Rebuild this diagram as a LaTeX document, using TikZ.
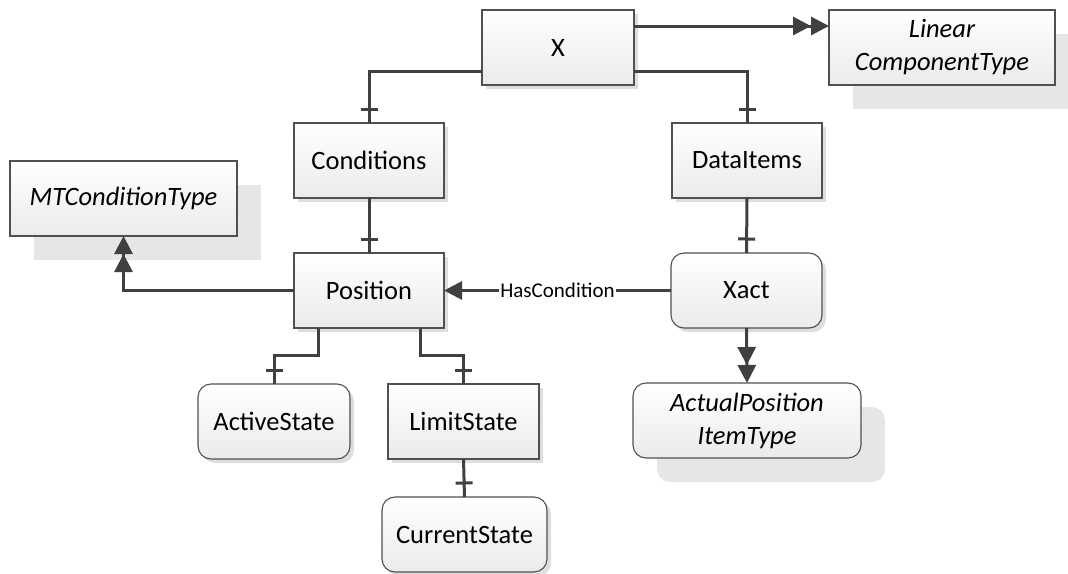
\documentclass[tikz,border=0pt]{standalone}
\usepackage{fontspec}
\setmainfont{Carlito}
\usetikzlibrary{arrows.meta,shadows,decorations.markings}
\definecolor{linec}{HTML}{404040}
\definecolor{edgec}{HTML}{505050}
\definecolor{ghost}{HTML}{E6E6E6}
\definecolor{softsh}{HTML}{DEDEDE}
\begin{document}
\begin{tikzpicture}[x=1pt,y=-1pt,
  base/.style={draw=edgec, line width=1.1pt, top color=white, bottom color=black!8,
    minimum height=75pt, inner sep=0pt, outer sep=0pt, align=center,
    font=\fontsize{26.5}{33}\selectfont},
  box/.style={base, general shadow={fill=softsh, shadow xshift=4pt, shadow yshift=-4pt}},
  rbox/.style={box, rounded corners=13pt},
  abstract/.style={base, font=\fontsize{26.5}{33}\selectfont\itshape,
    general shadow={fill=ghost, shadow xshift=24pt, shadow yshift=-24pt}},
  conn/.style={draw=linec, line width=3pt},
  arr/.style={-{Triangle[length=18pt,width=18pt]}},
  arrtwo/.style={-{Triangle[length=18pt,width=18pt,sep=0pt]Triangle[length=18pt,width=18pt]}},
  onetick/.style={postaction={decorate, decoration={markings,
    mark=at position -14pt with {\draw[linec, line width=3pt] (0pt,-8.5pt) -- (0pt,8.5pt);}}}},
  lbl/.style={fill=white, inner sep=1pt, font=\fontsize{21}{25}\selectfont}
]
\useasboundingbox (0,0) rectangle (1068,573);

% classes
\node[box, minimum width=152pt] (x) at (558,47.5) {X};
\node[abstract, minimum width=226pt] (lin) at (942,47.5) {Linear\\ComponentType};
\node[box, minimum width=150pt] (cond) at (369,160.5) {Conditions};
\node[box, minimum width=150pt] (di) at (747,160.5) {DataItems};
\node[abstract, minimum width=227pt] (mtc) at (123.5,198.5) {MTConditionType};
\node[box, minimum width=150pt] (pos) at (369,290.5) {Position};
\node[rbox, minimum width=151pt] (xact) at (746.5,290.5) {Xact};
\node[rbox, minimum width=152pt] (act) at (274,421.5) {ActiveState};
\node[box, minimum width=151pt] (lim) at (463.5,421.5) {LimitState};
\node[rbox, minimum width=165pt] (cur) at (464.5,534.5) {CurrentState};
\node[abstract, rounded corners=13pt, minimum width=228pt] (apos) at (747,420.5) {ActualPosition\\ItemType};

% connectors
\draw[conn, arrtwo] ([yshift=21.5pt]x.east) -- ([yshift=21.5pt]lin.west);
\draw[conn, onetick] ([yshift=-23.5pt]x.east) -| (di.north);
\draw[conn, onetick] ([yshift=-24pt]x.west) -| (cond.north);
\draw[conn, onetick] (cond.south) -- (pos.north);
\draw[conn, onetick] (di.south) -- (xact.north);
\draw[conn, arrtwo] (pos.west) -| (mtc.south);
\draw[conn, arr] (xact.west) -- node[lbl] {HasCondition} (pos.east);
\draw[conn, arrtwo] (xact.south) -- (apos.north);
\draw[conn, onetick] ([xshift=24pt]pos.south west) -- ++(0,27) -| (act.north);
\draw[conn, onetick] ([xshift=-24pt]pos.south east) -- ++(0,27) -| (lim.north);
\draw[conn, onetick] (lim.south) -- (cur.north);
\end{tikzpicture}
\end{document}
